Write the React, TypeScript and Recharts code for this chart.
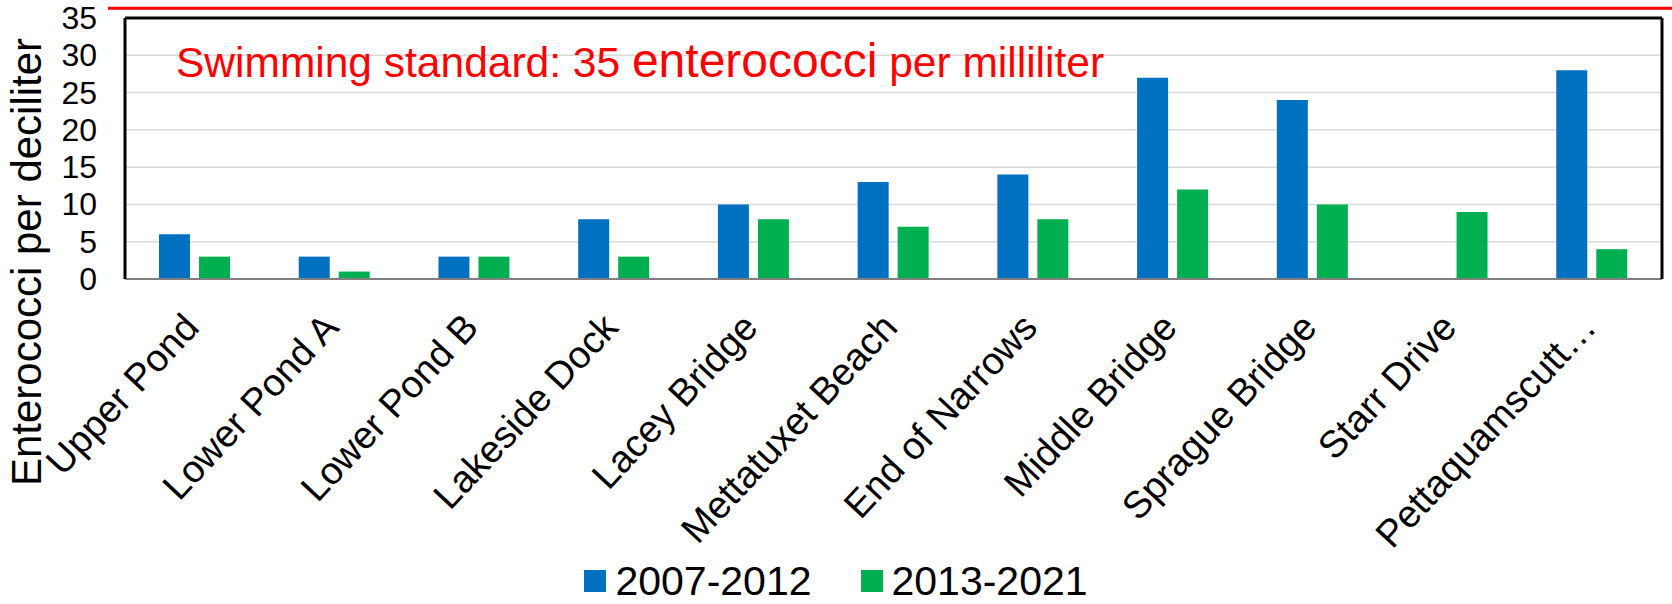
import React from 'react'
import {
    Bar,
    BarChart,
    CartesianGrid,
    Legend,
    ReferenceLine,
    XAxis,
    YAxis,
} from 'recharts'

const sites = [
    'Upper Pond',
    'Lower Pond A',
    'Lower Pond B',
    'Lakeside Dock',
    'Lacey Bridge',
    'Mettatuxet Beach',
    'End of Narrows',
    'Middle Bridge',
    'Sprague Bridge',
    'Starr Drive',
    'Pettaquamscutt…',
]
const period1 = [6, 3, 3, 8, 10, 13, 14, 27, 24, null, 28]
const period2 = [3, 1, 3, 3, 8, 7, 8, 12, 10, 9, 4]
const yTicks = [0, 5, 10, 15, 20, 25, 30, 35]
// the red standard line sits just above the plot frame in the original
const standardLineY = 36.3

const data = sites.map((site, i) => ({
    site,
    p1: period1[i],
    p2: period2[i],
}))

const FONT = '"Liberation Sans", Arial, sans-serif'

const SiteTick = (props: any) => {
    const { x, y, payload } = props
    return (
        <text
            transform={`translate(${x + 6},${y + 50}) rotate(-47)`}
            textAnchor="end"
            fontSize={38}
            fontFamily={FONT}
            fill="#000"
        >
            {payload.value}
        </text>
    )
}

const ValueTick = (props: any) => {
    const { x, y, payload } = props
    return (
        <text
            x={x}
            y={y}
            dy={11}
            textAnchor="end"
            fontSize={32}
            fontFamily={FONT}
            fill="#000"
        >
            {payload.value}
        </text>
    )
}

const RedNote = () => (
    <text x={176} y={77} fill="#ff0000" fontFamily={FONT} fontSize={42.5}>
        Swimming standard: 35{' '}
        <tspan fontSize={48}>enterococci</tspan> per milliliter
    </text>
)

const AxisTitle = () => (
    <text
        transform="translate(41,262) rotate(-90)"
        textAnchor="middle"
        fontSize={42}
        fontFamily={FONT}
        fill="#000"
    >
        Enterococci per deciliter
    </text>
)

const renderLegend = (props: any) => {
    const { payload } = props
    return (
        <div
            style={{
                display: 'flex',
                justifyContent: 'center',
                alignItems: 'center',
                gap: 49,
                fontFamily: FONT,
                fontSize: 41,
                lineHeight: '38px',
                height: 38,
            }}
        >
            {payload.map((item: any) => (
                <div
                    key={item.value}
                    style={{ display: 'flex', alignItems: 'center', gap: 9 }}
                >
                    <span
                        style={{
                            width: 22,
                            height: 22,
                            background: item.color,
                            display: 'inline-block',
                        }}
                    />
                    <span>{item.value}</span>
                </div>
            ))}
        </div>
    )
}

const App = () => {
    return (
        <div style={{ position: 'absolute', left: 0, top: 0 }}>
            <BarChart
                width={1672}
                height={604}
                data={data}
                margin={{ top: 18, right: 9, bottom: 0, left: 0 }}
                barSize={31}
                barGap={9}
            >
                <CartesianGrid
                    vertical={false}
                    stroke="#d9d9d9"
                    strokeWidth={1.5}
                />
                <XAxis
                    dataKey="site"
                    interval={0}
                    height={325}
                    tickLine={false}
                    tickSize={0}
                    tickMargin={0}
                    axisLine={{ stroke: '#7f7f7f', strokeWidth: 2 }}
                    tick={<SiteTick />}
                />
                <YAxis
                    domain={[0, 35]}
                    ticks={yTicks}
                    width={125}
                    tickLine={false}
                    tickSize={0}
                    tickMargin={28}
                    axisLine={{ stroke: '#000', strokeWidth: 3 }}
                    tick={<ValueTick />}
                    label={{ content: <AxisTitle /> }}
                />
                <YAxis
                    yAxisId="frame"
                    orientation="right"
                    domain={[0, 35]}
                    width={1}
                    tick={false}
                    tickLine={false}
                    axisLine={{ stroke: '#000', strokeWidth: 3 }}
                />
                <ReferenceLine y={35} stroke="#000" strokeWidth={3} />
                <ReferenceLine
                    y={standardLineY}
                    ifOverflow="visible"
                    shape={(p: any) => (
                        <line
                            x1={p.x1 - 17}
                            y1={p.y1}
                            x2={1672}
                            y2={p.y2}
                            stroke="#ff0000"
                            strokeWidth={3}
                        />
                    )}
                    label={{ content: <RedNote /> }}
                />
                <Legend
                    layout="vertical"
                    align="center"
                    verticalAlign="middle"
                    wrapperStyle={{ top: 562, left: 0, width: 1672, height: 38 }}
                    content={renderLegend}
                />
                <Bar
                    dataKey="p1"
                    name="2007-2012"
                    fill="#0070c0"
                    isAnimationActive={false}
                />
                <Bar
                    dataKey="p2"
                    name="2013-2021"
                    fill="#00b050"
                    isAnimationActive={false}
                />
            </BarChart>
        </div>
    )
}

export default App
